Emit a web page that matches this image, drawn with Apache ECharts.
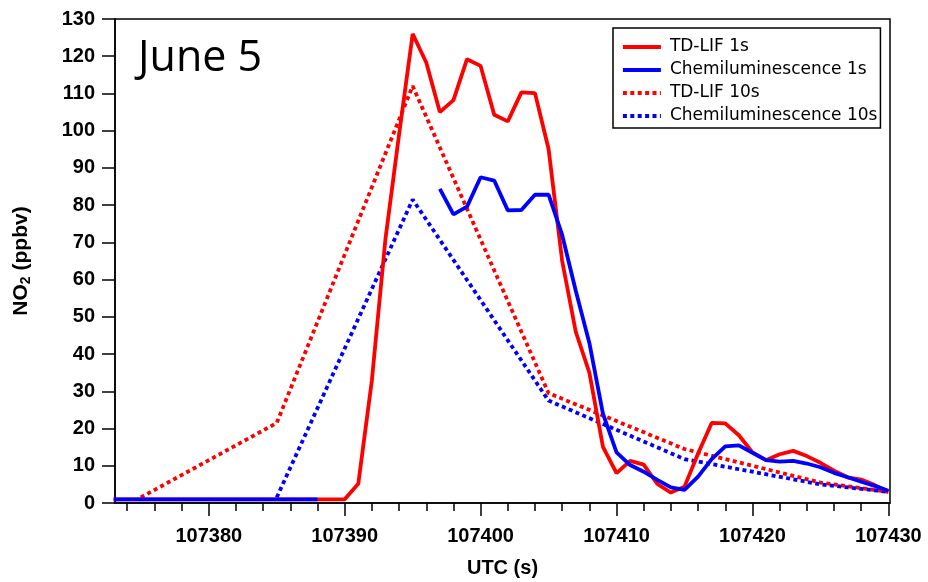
<!DOCTYPE html>
<html>
<head>
<meta charset="utf-8">
<script src="https://cdn.jsdelivr.net/npm/echarts@6/dist/echarts.min.js"></script>
<style>
  html, body { margin: 0; padding: 0; background: #fff; }
  #chart { width: 928px; height: 582px; }
</style>
</head>
<body>
<div id="chart"></div>
<script>
// 1 s samples (UTC seconds)
const seconds1s = [
  107373, 107374, 107375, 107376, 107377, 107378, 107379, 107380, 107381, 107382,
  107383, 107384, 107385, 107386, 107387, 107388, 107389, 107390, 107391, 107392,
  107393, 107394, 107395, 107396, 107397, 107398, 107399, 107400, 107401, 107402,
  107403, 107404, 107405, 107406, 107407, 107408, 107409, 107410, 107411, 107412,
  107413, 107414, 107415, 107416, 107417, 107418, 107419, 107420, 107421, 107422,
  107423, 107424, 107425, 107426, 107427, 107428, 107429, 107430
];
// NO2 (ppbv), TD-LIF 1 s
const tdlif1s = [
  1.0, 1.0, 1.0, 1.0, 1.0, 1.0, 1.0, 1.0, 1.0, 1.0,
  1.0, 1.0, 1.0, 1.0, 1.0, 1.0, 1.0, 1.0, 5.2, 33.0,
  71.0, 99.0, 126.0, 118.3, 105.0, 108.2, 119.2, 117.4, 104.3, 102.5,
  110.3, 110.1, 95.1, 65.0, 46.0, 35.0, 15.1, 8.0, 11.3, 10.3,
  5.1, 2.8, 4.4, 13.3, 21.5, 21.4, 18.2, 13.6, 11.5, 13.1,
  14.0, 12.6, 10.8, 8.7, 6.9, 6.3, 4.8, 3.0
];
// NO2 (ppbv), chemiluminescence 1 s (null = no data)
const chemi1s = [
  1.0, 1.0, 1.0, 1.0, 1.0, 1.0, 1.0, 1.0, 1.0, 1.0,
  1.0, 1.0, 1.0, 1.0, 1.0, 1.0, null, null, null, null,
  null, null, null, null, 84.4, 77.5, 79.6, 87.5, 86.6, 78.6,
  78.7, 82.8, 82.8, 72.0, 57.0, 43.0, 24.0, 13.6, 10.2, 8.4,
  6.2, 4.2, 3.5, 7.1, 11.8, 15.2, 15.5, 13.5, 11.5, 11.1,
  11.3, 10.6, 9.6, 8.1, 6.9, 5.7, 4.6, 3.3
];

// 10 s averages
const seconds10s = [107375, 107385, 107395, 107405, 107415, 107425, 107430];
const tdlif10s = [1.5, 21.5, 112.0, 29.5, 14.5, 5.5, 3.0];
const chemi10s = [null, 1.5, 81.5, 27.5, 11.8, 5.0, 3.0];

// axis ticks
const xMajorTicks = [107380, 107390, 107400, 107410, 107420, 107430];
const xMinorTicks = [
  107374, 107376, 107378, 107382, 107384, 107386, 107388, 107392, 107394, 107396,
  107398, 107402, 107404, 107406, 107408, 107412, 107414, 107416, 107418, 107422,
  107424, 107426, 107428
];

const seriesNames = ['TD-LIF 1s', 'Chemiluminescence 1s', 'TD-LIF 10s', 'Chemiluminescence 10s'];

const pairs = (xs, ys) => xs.map((x, i) => [x, ys[i] == null ? '-' : ys[i]]);

const RED = '#ff0000';
const BLUE = '#0000ff';
const DOT = [4, 3.4];
const LINE_W = 3.8;
const tickFont = { fontFamily: '"Liberation Sans", Arial, sans-serif', fontWeight: 'bold', fontSize: 20, color: '#000' };

const chart = echarts.init(document.getElementById('chart'), null, { renderer: 'canvas' });

chart.setOption({
  animation: false,
  backgroundColor: '#fff',
  grid: {
    left: 115, right: 38, top: 19, bottom: 79,
    show: true, borderColor: '#000', borderWidth: 1.5,
    containLabel: false, outerBoundsMode: 'none'
  },
  legend: {
    orient: 'vertical',
    left: 613, top: 28,
    data: seriesNames,
    padding: [9, 3, 2, 8],
    itemGap: 3,
    itemWidth: 38,
    itemHeight: 14,
    // line-only legend keys
    itemStyle: { opacity: 0 },
    lineStyle: { width: LINE_W },
    borderColor: '#000',
    borderWidth: 1.5,
    backgroundColor: '#fff',
    textStyle: { fontFamily: '"DejaVu Sans", sans-serif', fontSize: 17, lineHeight: 20, color: '#000', padding: [0, 0, 0, 4] }
  },
  graphic: [{
    type: 'text',
    left: 138, top: 37,
    style: { text: 'June 5', font: '43px "Open Sans", "Noto Sans", sans-serif', fill: '#000' }
  }],
  xAxis: [{
    type: 'value',
    min: 107373.1, max: 107430.12,
    name: 'UTC (s)',
    nameLocation: 'middle',
    nameGap: 55,
    nameTextStyle: tickFont,
    axisLine: { lineStyle: { color: '#000', width: 1.5 } },
    axisTick: { show: true, inside: false, length: 13, customValues: xMajorTicks, lineStyle: { color: '#000', width: 1.5 } },
    axisLabel: Object.assign({ margin: 23, customValues: xMajorTicks, formatter: v => String(v) }, tickFont),
    splitLine: { show: false }
  }, {
    type: 'value',
    position: 'bottom',
    min: 107373.1, max: 107430.12,
    axisLine: { show: false },
    axisTick: { show: true, inside: false, length: 8, customValues: xMinorTicks, lineStyle: { color: '#000', width: 1.5 } },
    axisLabel: { show: false },
    splitLine: { show: false }
  }],
  yAxis: [{
    type: 'value',
    min: 0, max: 130, interval: 10,
    name: '{a|NO}{b|2}{a| (ppbv)}',
    nameLocation: 'middle',
    nameGap: 82,
    nameTextStyle: {
      rich: {
        a: { fontFamily: '"Liberation Sans", Arial, sans-serif', fontWeight: 'bold', fontSize: 21, color: '#000' },
        b: { fontFamily: '"Liberation Sans", Arial, sans-serif', fontWeight: 'bold', fontSize: 14, color: '#000', padding: [9, 0, 0, 0] }
      }
    },
    axisLine: { show: true, lineStyle: { color: '#000', width: 1.5 } },
    axisTick: { show: true, inside: false, length: 13, lineStyle: { color: '#000', width: 1.5 } },
    axisLabel: Object.assign({ margin: 20 }, tickFont),
    splitLine: { show: false }
  }],
  series: [{
    name: seriesNames[2], type: 'line', xAxisIndex: 0, z: 2,
    data: pairs(seconds10s, tdlif10s),
    symbol: 'none', color: RED,
    lineStyle: { color: RED, width: LINE_W, type: DOT }
  }, {
    name: seriesNames[3], type: 'line', xAxisIndex: 0, z: 2,
    data: pairs(seconds10s, chemi10s),
    symbol: 'none', color: BLUE,
    lineStyle: { color: BLUE, width: LINE_W, type: DOT }
  }, {
    name: seriesNames[0], type: 'line', xAxisIndex: 0, z: 3,
    data: pairs(seconds1s, tdlif1s),
    symbol: 'none', color: RED,
    lineStyle: { color: RED, width: LINE_W }
  }, {
    name: seriesNames[1], type: 'line', xAxisIndex: 0, z: 4,
    data: pairs(seconds1s, chemi1s),
    symbol: 'none', color: BLUE,
    lineStyle: { color: BLUE, width: LINE_W }
  }]
});
</script>
</body>
</html>
